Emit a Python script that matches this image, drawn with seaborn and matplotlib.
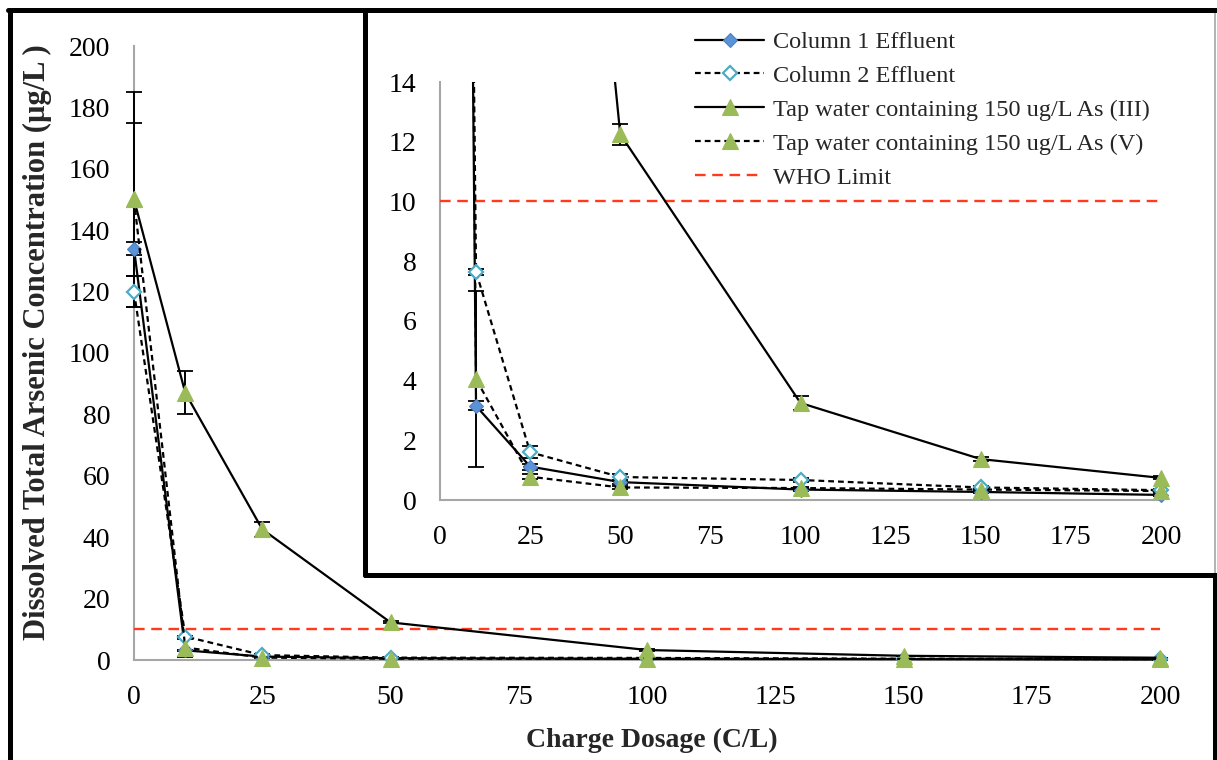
import matplotlib
matplotlib.use("Agg")
import matplotlib.pyplot as plt
import seaborn as sns
from matplotlib.patches import Rectangle
from matplotlib.lines import Line2D

# ---------------- data ----------------
dose = [0, 10, 25, 50, 100, 150, 200]

col1 = [134, 3.15, 1.12, 0.6, 0.35, 0.27, 0.17]
col1_err = [2, 0.15, 0.1, 0.05, 0.04, 0.03, 0.03]

col2 = [120, 7.65, 1.6, 0.77, 0.67, 0.42, 0.33]
col2_err = [5, 0.1, 0.2, 0.1, 0.08, 0.05, 0.04]

as3 = [150, 87, 42.6, 12.25, 3.25, 1.37, 0.74]
as3_err = [35, 7, 2.5, 0.35, 0.25, 0.08, 0.05]

as5 = [150, 4.05, 0.78, 0.42, 0.4, 0.35, 0.3]
as5_err = [25, 2.95, 0.08, 0.05, 0.04, 0.03, 0.03]

who_x = [0, 200]
who_y = [10, 10]

series_labels = ["Column 1 Effluent", "Column 2 Effluent",
                 "Tap water containing 150 ug/L As (III)",
                 "Tap water containing 150 ug/L As (V)",
                 "WHO Limit"]

main_xticks = [0, 25, 50, 75, 100, 125, 150, 175, 200]
main_yticks = [0, 20, 40, 60, 80, 100, 120, 140, 160, 180, 200]
inset_xticks = [0, 25, 50, 75, 100, 125, 150, 175, 200]
inset_yticks = [0, 2, 4, 6, 8, 10, 12, 14]

xlabel = "Charge Dosage (C/L)"
ylabel = "Dissolved Total Arsenic Concentration (\u00b5g/L )"

# ---------------- style ----------------
sns.set_style("white")
plt.rcParams["font.family"] = ["Liberation Serif", "DejaVu Serif"]

W, H = 1217, 760
fig = plt.figure(figsize=(W / 100, H / 100), dpi=100)
fig.patch.set_facecolor("white")


def fx(px):
    return px / W


def fy(py):
    return 1 - py / H


GRAY = "#A6A6A6"
BLUE = "#5A93D8"
BLUE_E = "#4F81BD"
CYAN = "#4BACC6"
GREEN = "#9BBB59"
RED = "#FF3B1F"
DASH = (0, (2.6, 1.8))
WHODASH = (0, (4.5, 2.8))

styles = [
    dict(color="black", linestyle="-", marker="D", markersize=7.0,
         markerfacecolor=BLUE, markeredgecolor=BLUE_E, markeredgewidth=0.8),
    dict(color="black", linestyle=DASH, marker="D", markersize=6.8,
         markerfacecolor="white", markeredgecolor=CYAN, markeredgewidth=1.6),
    dict(color="black", linestyle="-", marker="^", markersize=11.5,
         markerfacecolor=GREEN, markeredgecolor=GREEN, markeredgewidth=0.8),
    dict(color="black", linestyle=DASH, marker="^", markersize=11.5,
         markerfacecolor=GREEN, markeredgecolor=GREEN, markeredgewidth=0.8),
]
values = [col1, col2, as3, as5]
errors = [col1_err, col2_err, as3_err, as5_err]

LW = 1.6


def style_axes(ax, xt, yt, xpad, ypad):
    for s in ["top", "right"]:
        ax.spines[s].set_visible(False)
    for s in ["left", "bottom"]:
        ax.spines[s].set_color(GRAY)
        ax.spines[s].set_linewidth(1.5)
    ax.set_xticks(xt)
    ax.set_yticks(yt)
    ax.tick_params(axis="both", direction="out", length=6, width=1.2,
                   color=GRAY, labelsize=20, labelcolor="black")
    ax.tick_params(axis="x", pad=xpad)
    ax.tick_params(axis="y", pad=ypad)
    ax.grid(False)
    ax.set_facecolor("none")


# ---------------- main axes ----------------
ax = fig.add_axes([fx(134), fy(660), fx(1160) - fx(134), fy(46) - fy(660)])
ax.set_zorder(0)
ax.set_xlim(0, 200)
ax.set_ylim(0, 200)
style_axes(ax, main_xticks, main_yticks, 12, 11)

handles = []
for vals, errs, st in zip(values, errors, styles):
    ax.errorbar(dose, vals, yerr=errs, fmt="none", ecolor="black",
                elinewidth=1.4, capsize=5.5, capthick=1.3, clip_on=False,
                zorder=2.8)
for vals, st in zip(values, styles):
    sns.lineplot(x=dose, y=vals, ax=ax, linewidth=LW, errorbar=None,
                 clip_on=False, zorder=3, **st)
    handles.append(ax.lines[-1])
sns.lineplot(x=who_x, y=who_y, ax=ax, color=RED, linestyle=WHODASH,
             linewidth=1.7, errorbar=None, zorder=2.6)
handles.append(ax.lines[-1])

ax.set_xlabel(xlabel, fontsize=20, fontweight="bold", ha="center", va="center")
ax.set_ylabel(ylabel, fontsize=22, fontweight="bold", ha="center", va="center")
ax.xaxis.set_label_coords((652 - 134) / 1026, -(740 - 660) / 614)
ax.yaxis.set_label_coords((37 - 134) / 1026, (660 - 342) / 614)

# ---------------- frames ----------------
fig.add_artist(Line2D([fx(10), fx(10)], [fy(9.5), fy(800)], color="black",
                      lw=3.6, transform=fig.transFigure, zorder=0.5))
fig.add_artist(Line2D([fx(1215), fx(1215)], [fy(575), fy(800)], color="black",
                      lw=3.6, transform=fig.transFigure, zorder=0.5))
fig.add_artist(Rectangle((fx(365), fy(575)), fx(1215) - fx(365), fy(9.5) - fy(575),
                         transform=fig.transFigure, facecolor="white",
                         edgecolor="none", zorder=1))
fig.add_artist(Line2D([fx(1215), fx(1215)], [fy(9.5), fy(575)], color=GRAY,
                      lw=1.2, transform=fig.transFigure, zorder=1.1))
fig.add_artist(Line2D([fx(365), fx(365), fx(1217)], [fy(575), fy(9.5), fy(9.5)],
                      color="black", lw=3.6, transform=fig.transFigure,
                      zorder=1.2, solid_joinstyle="miter"))
fig.add_artist(Line2D([fx(8), fx(1217)], [fy(9.5), fy(9.5)], color="black",
                      lw=3.6, transform=fig.transFigure, zorder=1.2))
fig.add_artist(Line2D([fx(365), fx(1217)], [fy(575), fy(575)], color="black",
                      lw=3.6, transform=fig.transFigure, zorder=1.2))

# ---------------- inset axes ----------------
axin = fig.add_axes([fx(440), fy(500), fx(1161) - fx(440), fy(82) - fy(500)])
axin.set_zorder(2)
axin.set_xlim(0, 200)
axin.set_ylim(0, 14)
style_axes(axin, inset_xticks, inset_yticks, 12, 11)

for vals, errs in zip(values, errors):
    axin.errorbar(dose, vals, yerr=errs, fmt="none", ecolor="black",
                  elinewidth=1.4, capsize=5.5, capthick=1.3, zorder=2.8)
for vals, st in zip(values, styles):
    line_st = {k: v for k, v in st.items() if not k.startswith("marker")}
    sns.lineplot(x=dose, y=vals, ax=axin, linewidth=LW, errorbar=None,
                 zorder=3, **line_st)
    mk = {k: v for k, v in st.items() if k.startswith("marker")}
    xs = [x for x, v in zip(dose, vals) if v <= 14]
    ys = [v for v in vals if v <= 14]
    axin.plot(xs, ys, linestyle="none", clip_on=False, zorder=3.5, **mk)
sns.lineplot(x=who_x, y=who_y, ax=axin, color=RED, linestyle=WHODASH,
             linewidth=1.7, errorbar=None, zorder=2.6)

# ---------------- legend ----------------
leg = fig.legend(handles, series_labels, loc="upper left",
                 bbox_to_anchor=(fx(695), fy(31)), bbox_transform=fig.transFigure,
                 frameon=False, fontsize=17.5, handlelength=2.85,
                 handletextpad=0.35, labelspacing=0.49, borderpad=0,
                 borderaxespad=0)
leg.set_zorder(5)

fig.savefig("out.png", dpi=100)
